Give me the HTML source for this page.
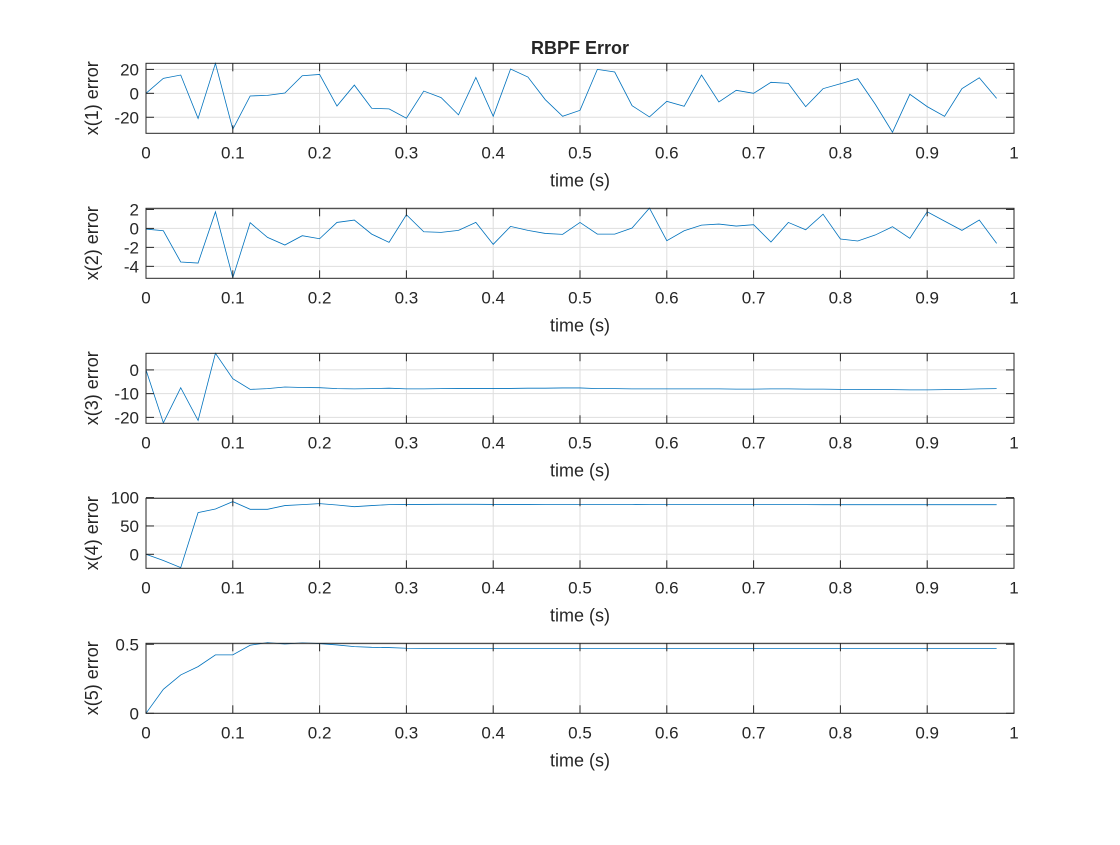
<!DOCTYPE html>
<html><head><meta charset="utf-8"><style>
body{margin:0;background:#fff;width:1120px;height:840px;overflow:hidden}
svg text{font-family:"Liberation Sans",sans-serif;fill:#262626}
</style></head><body>
<svg id="fig" width="1120" height="840" viewBox="0 0 1120 840" xmlns="http://www.w3.org/2000/svg">
<rect width="1120" height="840" fill="#fff"/>
<text x="580" y="54" text-anchor="middle" font-size="18" font-weight="bold">RBPF Error</text>
</svg>
<script>
const xTicks = [0,0.1,0.2,0.3,0.4,0.5,0.6,0.7,0.8,0.9,1];
const xTickLabels = ["0","0.1","0.2","0.3","0.4","0.5","0.6","0.7","0.8","0.9","1"];
const x1Err = [0,12.5,15.3,-21,25,-30,-2.2,-1.7,0.3,14.7,15.8,-10.6,6.9,-12.5,-13,-20.8,1.9,-3.6,-18,13.3,-19.2,20.3,13.6,-5.3,-19.2,-14.2,20,17.8,-10.3,-19.7,-6.7,-10.8,15.3,-7.2,2.5,0,9.2,8.3,-11.1,3.9,8,12.2,-8.9,-32.5,-0.8,-11.1,-19.2,3.9,13,-4.2];
const x2Err = [-0.07,-0.25,-3.54,-3.65,1.75,-5.2,0.6,-0.95,-1.75,-0.77,-1.09,0.63,0.88,-0.6,-1.47,1.44,-0.35,-0.42,-0.21,0.63,-1.68,0.21,-0.21,-0.53,-0.63,0.63,-0.6,-0.6,0.04,2.14,-1.3,-0.25,0.35,0.46,0.25,0.39,-1.44,0.63,-0.14,1.5,-1.12,-1.33,-0.7,0.18,-1.05,1.75,0.77,-0.21,0.88,-1.58];
const x3Err = [0,-22.3,-7.5,-21.3,7.0,-3.7,-8.2,-7.9,-7.2,-7.4,-7.5,-7.9,-8.0,-7.9,-7.7,-8.0,-8.0,-7.9,-7.8,-7.8,-7.8,-7.8,-7.7,-7.7,-7.6,-7.6,-7.9,-7.9,-8.0,-8.0,-8.0,-8.0,-8.0,-8.0,-8.1,-8.1,-8.0,-8.0,-8.1,-8.1,-8.2,-8.2,-8.3,-8.3,-8.4,-8.4,-8.3,-8.2,-8.0,-7.9];
const x4Err = [0,-11,-23.5,73.5,80,93,79.4,79.4,86,87.6,89.4,87,84,86,87.6,88,88,88.2,88.2,88.2,88,88,88,87.9,87.9,87.8,87.8,87.8,87.8,87.7,87.7,87.7,87.7,87.7,87.6,87.6,87.6,87.6,87.6,87.5,87.5,87.5,87.5,87.5,87.5,87.5,87.5,87.5,87.5,87.5];
const x5Err = [0,0.174,0.278,0.338,0.423,0.423,0.493,0.512,0.502,0.51,0.505,0.495,0.483,0.478,0.476,0.471,0.47,0.47,0.47,0.47,0.47,0.47,0.47,0.47,0.47,0.47,0.47,0.47,0.47,0.47,0.47,0.47,0.47,0.47,0.47,0.47,0.47,0.47,0.47,0.47,0.47,0.47,0.47,0.47,0.47,0.47,0.47,0.47,0.47,0.47];
const seriesList = [x1Err,x2Err,x3Err,x4Err,x5Err];
const yLabels = ["x(1) error","x(2) error","x(3) error","x(4) error","x(5) error"];
const yTicks = [[-20,0,20],[-4,-2,0,2],[-20,-10,0],[0,50,100],[0,0.5]];
const yTickLabels = [["-20","0","20"],["-4","-2","0","2"],["-20","-10","0"],["0","50","100"],["0","0.5"]];
const yLims = [[-33.4,25.1],[-5.26,2.12],[-22.5,7.0],[-24.7,98.8],[0,0.507]];

const NS="http://www.w3.org/2000/svg";
const svg=document.getElementById('fig');
const L=146,R=1014,H=70;
function mk(tag,attrs,parent){const e=document.createElementNS(NS,tag);for(const k in attrs)e.setAttribute(k,attrs[k]);(parent||svg).appendChild(e);return e;}
const xs=v=>L+(R-L)*v;
for(let p=0;p<5;p++){
  const top=63.3+145*p,bot=top+H;
  const [lo,hi]=yLims[p];
  const ys=v=>bot-(v-lo)/(hi-lo)*H;
  const g=mk('g',{});
  
  
  xTicks.forEach(t=>{const l=mk('line',{x1:xs(t),x2:xs(t),y1:top,y2:bot,stroke:'#dedede','stroke-width':1},g);
    
    });
  yTicks[p].forEach(t=>{const l=mk('line',{x1:L,x2:R,y1:ys(t),y2:ys(t),stroke:'#dedede','stroke-width':1},g);
    
    });
  const pts=seriesList[p].map((v,i)=>xs(i*0.02).toFixed(2)+','+ys(v).toFixed(2)).join(' ');
  const pl=mk('polyline',{points:pts,fill:'none',stroke:'#0072BD','stroke-width':0.8},g);
  
  
  const b=mk('rect',{x:L,y:top,width:R-L,height:H,fill:'none',stroke:'#262626','stroke-width':1},g);
  
  
  xTicks.forEach((t,i)=>{
    mk('line',{x1:xs(t),x2:xs(t),y1:bot,y2:bot-8,stroke:'#262626'},g);
    mk('line',{x1:xs(t),x2:xs(t),y1:top,y2:top+8,stroke:'#262626'},g);
    const tx=mk('text',{x:xs(t),y:bot+25,'text-anchor':'middle','font-size':17},g);
    tx.textContent=xTickLabels[i];
    
    
  });
  yTicks[p].forEach((t,i)=>{
    mk('line',{x1:L,x2:L+8,y1:ys(t),y2:ys(t),stroke:'#262626'},g);
    mk('line',{x1:R,x2:R-8,y1:ys(t),y2:ys(t),stroke:'#262626'},g);
    const tx=mk('text',{x:L-7,y:ys(t)+6,'text-anchor':'end','font-size':17},g);
    tx.textContent=yTickLabels[p][i];
    
    
  });
  const xl=mk('text',{x:(L+R)/2,y:bot+53,'text-anchor':'middle','font-size':18},g);
  xl.textContent='time (s)';
  
  
  const cy=(top+bot)/2;
  const yl=mk('text',{x:0,y:0,'text-anchor':'middle','font-size':18,transform:`translate(98,${cy}) rotate(-90)`},g);
  yl.textContent=yLabels[p];
  
  
}
</script>
</body></html>
